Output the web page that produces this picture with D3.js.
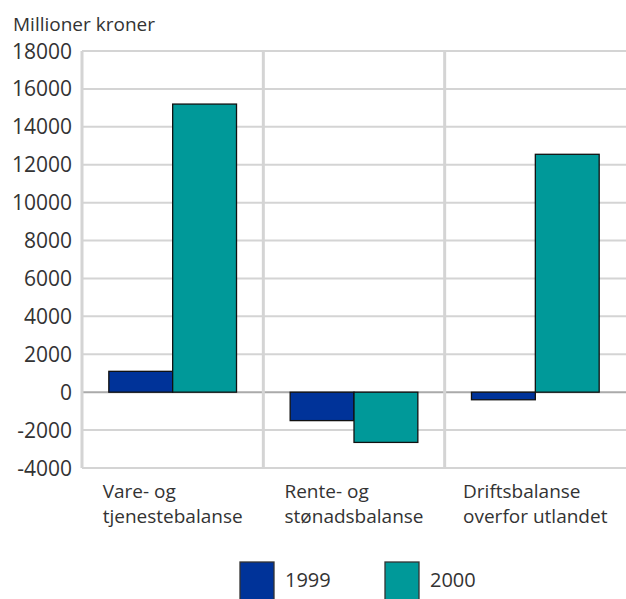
<!DOCTYPE html>
<html>
<head>
<meta charset="utf-8">
<script src="https://cdn.jsdelivr.net/npm/d3@7"></script>
<style>
  body { margin: 0; background: #fff; }
  text { font-family: "Open Sans", sans-serif; fill: #333; }
</style>
</head>
<body>
<div id="chart"></div>
<script>
// data
var categories = [["Vare- og", "tjenestebalanse"], ["Rente- og", "stønadsbalanse"], ["Driftsbalanse", "overfor utlandet"]];
var seriesNames = ["1999", "2000"];
var values1999 = [1100, -1500, -400];
var values2000 = [15200, -2650, 12550];
var yTicks = [-4000, -2000, 0, 2000, 4000, 6000, 8000, 10000, 12000, 14000, 16000, 18000];
var colors = ["#003399", "#009999"];

var W = 626, H = 599;
var m = {t: 51, r: 0, b: 131, l: 82};
var w = W - m.l - m.r, h = H - m.t - m.b;

var svg = d3.select('#chart').append('svg')
    .attr('width', W).attr('height', H);

var x = d3.scaleBand().domain(d3.range(categories.length)).range([0, w]).paddingInner(0).paddingOuter(0);
var x1 = d3.scaleBand().domain(seriesNames).range([0, x.bandwidth()]).paddingOuter(0.42);
var y = d3.scaleLinear().domain([-4000, 18000]).range([h, 0]);

var plot = svg.append('g').attr('transform', 'translate(' + m.l + ',' + m.t + ')');

//horizontal gridlines
plot.selectAll('.hgrid').data(yTicks).enter().append('line')
    .attr('x1', 0).attr('x2', w)
    .attr('y1', function(d){ return y(d); }).attr('y2', function(d){ return y(d); })
    .attr('stroke', function(d){ return d === 0 ? '#aaa' : '#d4d4d4'; })
    .attr('stroke-width', 2);

//vertical lines at the category boundaries
plot.selectAll('.vgrid').data([0, 1, 2]).enter().append('line')
    .attr('x1', function(d){ return d === 0 ? 0 : x(d); })
    .attr('x2', function(d){ return d === 0 ? 0 : x(d); })
    .attr('y1', 0).attr('y2', h)
    .attr('stroke', '#d4d4d4').attr('stroke-width', 3);

//y labels
plot.selectAll('.ylab').data(yTicks).enter().append('text')
    .attr('x', -10).attr('y', function(d){ return y(d); })
    .attr('dy', '0.36em')
    .attr('text-anchor', 'end')
    .style('font-size', '21px')
    .text(function(d){ return d; });

svg.append('text').attr('x', 13).attr('y', 31)
    .style('font-size', '19px')
    .text('Millioner kroner');

//bars
var series = [values1999, values2000];
var groups = plot.selectAll('.grp').data(categories).enter().append('g')
    .attr('transform', function(d, i){ return 'translate(' + x(i) + ',0)'; });

groups.each(function(c, i){
  d3.select(this).selectAll('rect').data(seriesNames).enter().append('rect')
      .attr('x', function(s){ return x1(s); })
      .attr('width', x1.bandwidth())
      .attr('y', function(s, j){ return y(Math.max(0, series[j][i])); })
      .attr('height', function(s, j){ return Math.abs(y(series[j][i]) - y(0)); })
      .attr('fill', function(s, j){ return colors[j]; })
      .attr('stroke', '#111').attr('stroke-width', 1.3);
});

//category labels: block centred, lines left aligned
groups.each(function(c, i){
  var t = d3.select(this).append('text')
      .style('font-size', '19px');
  t.selectAll('tspan').data(c).enter().append('tspan')
      .attr('x', 0).attr('y', function(d, k){ return h + 30 + k * 25; })
      .text(function(d){ return d; });
  var bw = t.node().getBBox().width;
  t.attr('transform', 'translate(' + (x.bandwidth() / 2 - bw / 2) + ',0)');
});

//legend
var leg = svg.append('g').attr('transform', 'translate(0,562)');
var legX = [240, 385];
seriesNames.forEach(function(s, j){
  leg.append('rect').attr('x', legX[j]).attr('y', 0)
      .attr('width', 34).attr('height', 40)
      .attr('fill', colors[j]).attr('stroke', '#333').attr('stroke-width', 1.3);
  leg.append('text').attr('x', legX[j] + 45).attr('y', 25)
      .style('font-size', '20px').text(s);
});
</script>
</body>
</html>
